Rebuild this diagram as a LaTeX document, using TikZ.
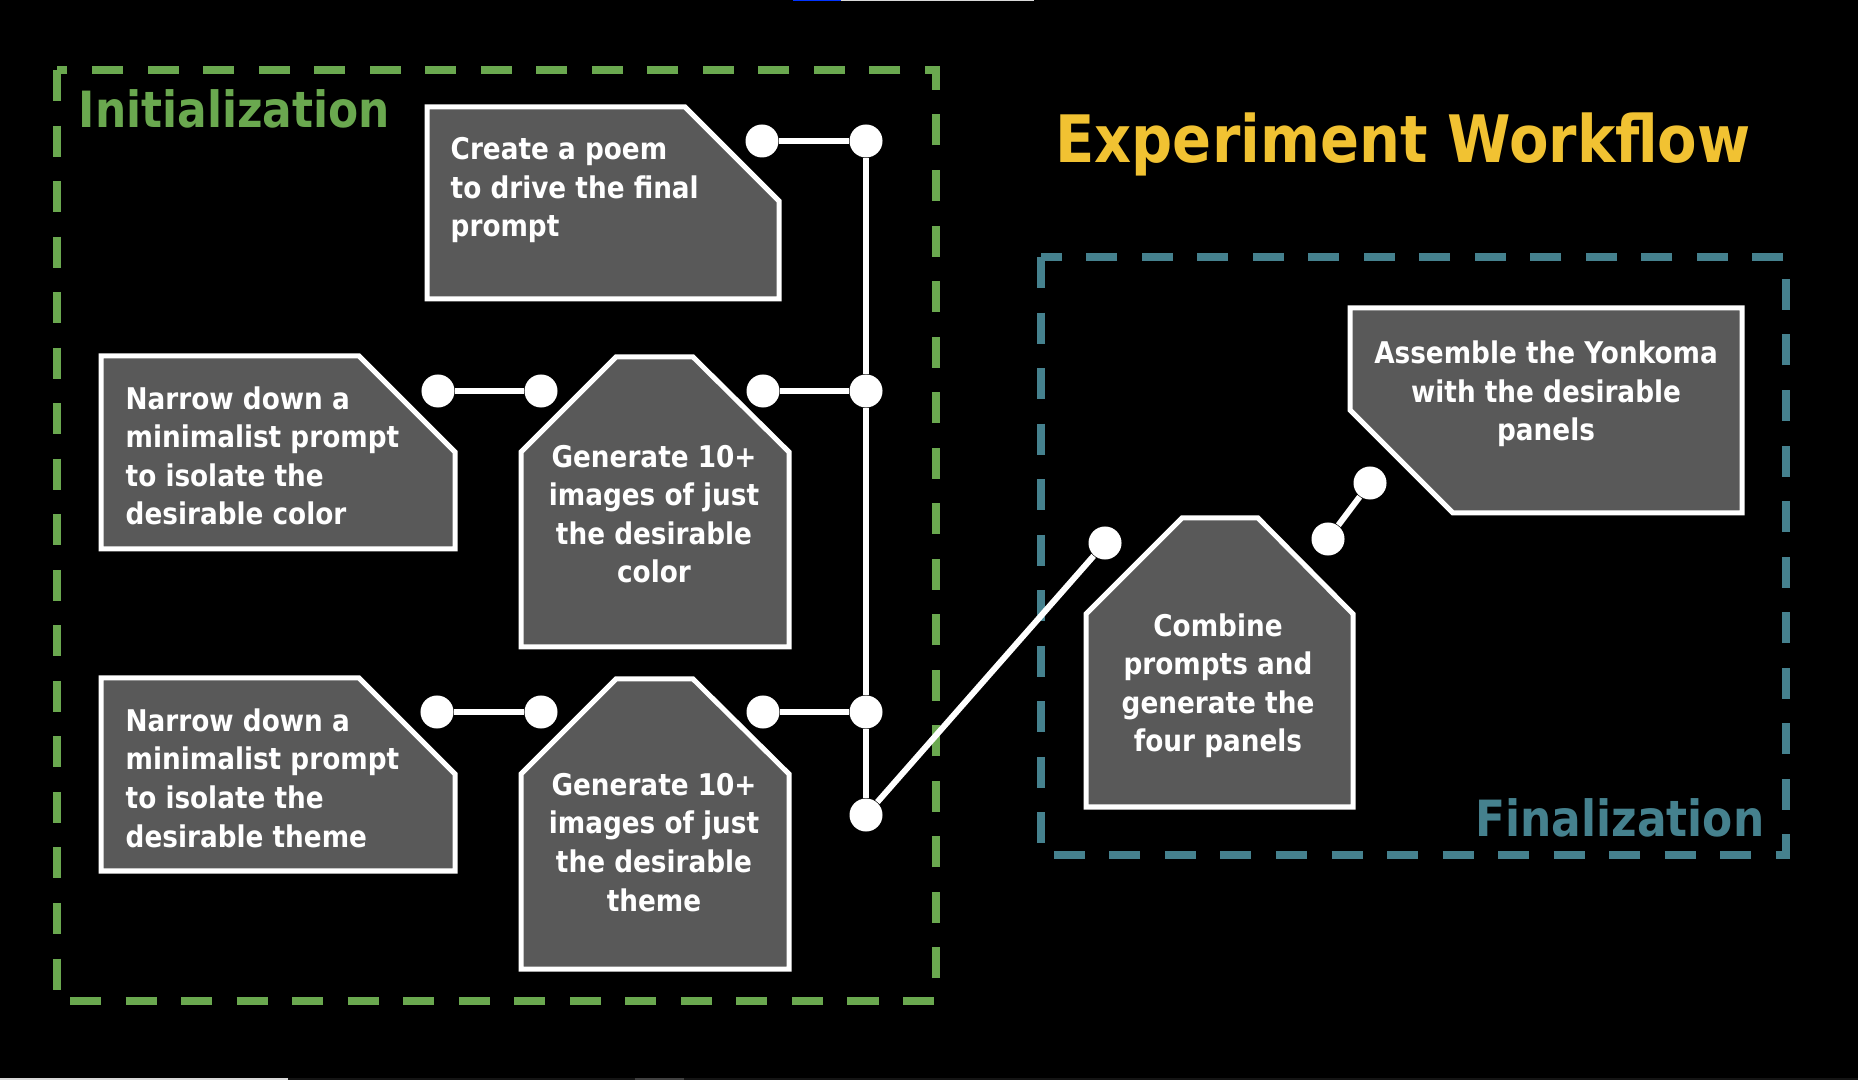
\documentclass[tikz,border=0pt]{standalone}
\usepackage{fontspec}
\setmainfont{DejaVu Sans}[FakeStretch=0.88]
\usetikzlibrary{positioning}
\definecolor{initcolor}{RGB}{106,168,79}
\definecolor{finalcolor}{RGB}{69,129,142}
\definecolor{titlecolor}{RGB}{241,194,50}
\definecolor{panelcolor}{RGB}{89,89,89}
\tikzset{
  stage/.style={draw=#1, line width=0.08cm, dash pattern=on 0.31cm off 0.245cm},
  stage/.default=initcolor,
  stagelabel/.style={font=\fontsize{14.2}{17}\selectfont\bfseries, text=#1,
                     inner sep=0pt},
  stagelabel/.default=initcolor,
  panel/.style={draw=white, line width=0.05cm, fill=panelcolor},
  paneltext/.style={font=\fontsize{8.5}{10.95}\selectfont\bfseries, text=white,
                    inner sep=0pt, align=#1},
  paneltext/.default=left,
  joint/.style={circle, fill=white, inner sep=0pt, minimum size=0.33cm},
  link/.style={draw=white, line width=0.06cm},
}

\begin{document}
\begin{tikzpicture}[x=0.01cm, y=-0.01cm]
  % Background
  \fill[black] (0,0) rectangle (1858,1080);
  \useasboundingbox (0,0) rectangle (1858,1080);
  \fill[black!92] (0,1078) rectangle (1858,1080);
  \fill[white!85!black] (0,1078) rectangle (288,1080);
  \fill[black!75] (635,1078) rectangle (684,1080);
  \fill[blue!80!cyan] (793,0) rectangle (841,1.2);
  \fill[white!85!black] (841,0) rectangle (1034,1.2);

  % Stages
  \draw[stage=initcolor] (57,70) rectangle (936,1001);
  \draw[stage=finalcolor] (1041,257) rectangle (1786,855);
  \node[stagelabel=initcolor, anchor=base west] (initlabel) at (78,128)
    {Initialization};
  \node[stagelabel=finalcolor, anchor=base east] (finallabel) at (1765,837)
    {Finalization};

  % Title
  \node[font=\fontsize{18.6}{22}\selectfont\bfseries, text=titlecolor,
    inner sep=0pt, anchor=base] (title) at (1403,163) {Experiment Workflow};

  % Panels (text placed by the baseline of its last line)
  \draw[panel] (427,107) -- (685,107) -- (779,201) -- (779,299) -- (427,299) -- cycle;
  \node[paneltext, anchor=base west] (poem) at (450,237)
    {Create a poem\\to drive the final\\prompt};

  \draw[panel] (101,356) -- (359,356) -- (455,452) -- (455,549) -- (101,549) -- cycle;
  \node[paneltext, anchor=base west] (narrowcolor) at (125,525)
    {Narrow down a\\minimalist prompt\\to isolate the\\desirable color};

  \draw[panel] (101,678) -- (359,678) -- (455,774) -- (455,871) -- (101,871) -- cycle;
  \node[paneltext, anchor=base west] (narrowtheme) at (125,847)
    {Narrow down a\\minimalist prompt\\to isolate the\\desirable theme};

  \draw[panel] (521,452) -- (616,357) -- (693,357) -- (789,452) -- (789,647) -- (521,647) -- cycle;
  \node[paneltext=center, anchor=base] (gencolor) at (654,583)
    {Generate 10+\\images of just\\the desirable\\color};

  \draw[panel] (521,774) -- (616,679) -- (693,679) -- (789,774) -- (789,969) -- (521,969) -- cycle;
  \node[paneltext=center, anchor=base] (gentheme) at (654,911)
    {Generate 10+\\images of just\\the desirable\\theme};

  \draw[panel] (1086,614) -- (1182,518) -- (1258,518) -- (1353,614) -- (1353,807) -- (1086,807) -- cycle;
  \node[paneltext=center, anchor=base] (combine) at (1218,752)
    {Combine\\prompts and\\generate the\\four panels};

  \draw[panel] (1350,308) -- (1742,308) -- (1742,513) -- (1453,513) -- (1350,410) -- cycle;
  \node[paneltext=center, anchor=base] (assemble) at (1546,441)
    {Assemble the Yonkoma\\with the desirable\\panels};

  % Joints
  \node[joint] (poemout) at (762,141) {};
  \node[joint] (busa) at (866,141) {};
  \node[joint] (colorin) at (438,391) {};
  \node[joint] (colorout) at (541,391) {};
  \node[joint] (gencolorout) at (763,391) {};
  \node[joint] (busb) at (866,391) {};
  \node[joint] (themein) at (437,712) {};
  \node[joint] (themeout) at (541,712) {};
  \node[joint] (genthemeout) at (763,712) {};
  \node[joint] (busc) at (866,712) {};
  \node[joint] (busend) at (866,815) {};
  \node[joint] (combinein) at (1105,543) {};
  \node[joint] (combineout) at (1328,539) {};
  \node[joint] (assemblein) at (1370,483) {};

  % Links
  \draw[link] (poemout) -- (busa);
  \draw[link] (colorin) -- (colorout);
  \draw[link] (gencolorout) -- (busb);
  \draw[link] (themein) -- (themeout);
  \draw[link] (genthemeout) -- (busc);
  \draw[link] (busa) -- (busb) -- (busc) -- (busend);
  \draw[link] (busend) -- (combinein);
  \draw[link] (combineout) -- (assemblein);
\end{tikzpicture}
\end{document}
